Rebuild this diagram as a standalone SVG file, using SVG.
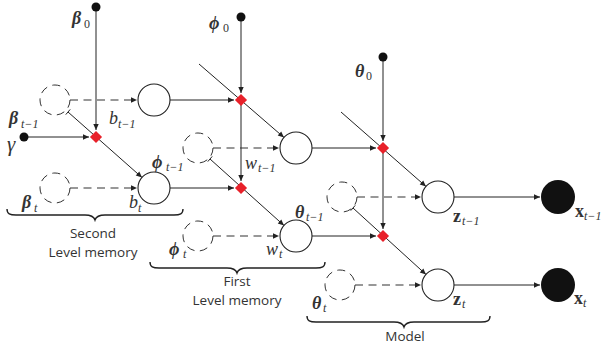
<svg xmlns="http://www.w3.org/2000/svg" width="607" height="352" viewBox="0 0 607 352">
<style>
.ln{stroke:#222;stroke-width:1;fill:none}
.ar{marker-end:url(#ah)}
.ds{stroke:#333;stroke-width:1.1;fill:none;stroke-dasharray:8 5.5}
.dc{stroke:#333;stroke-width:1;fill:none;stroke-dasharray:8 5.5}
.nc{stroke:#222;stroke-width:1.1;fill:#fff}
.fc{fill:#111}
.dm{fill:#e8212a}
.br{stroke:#222;stroke-width:1.4;fill:none}
</style>
<defs>
<marker id="ah" viewBox="0 0 10 10" refX="10" refY="5" markerWidth="7.5" markerHeight="6" markerUnits="userSpaceOnUse" orient="auto">
<path d="M0,0.5 L10,5 L0,9.5 z" fill="#222"/>
</marker>
</defs>
<g id="connectors">
<line class="ln ar" x1="96" y1="9" x2="96" y2="130"/>
<line class="ln ar" x1="27" y1="137" x2="89" y2="137"/>
<line class="ln ar" x1="68" y1="112" x2="142" y2="177.5"/>
<line class="ln" x1="65.8" y1="114.6" x2="70.2" y2="109.4"/>
<line class="ds ar" x1="70" y1="100" x2="137" y2="100"/>
<line class="ds ar" x1="70" y1="188" x2="137" y2="188"/>
<line class="ln ar" x1="170" y1="100" x2="234" y2="100"/>
<line class="ln ar" x1="170" y1="188" x2="234" y2="188"/>
<line class="ln ar" x1="241" y1="20" x2="241" y2="93"/>
<line class="ln ar" x1="241" y1="100" x2="241" y2="181"/>
<line class="ln ar" x1="199" y1="64" x2="284" y2="137.5"/>
<line class="ds ar" x1="213" y1="148" x2="279" y2="148"/>
<line class="ds ar" x1="213" y1="236" x2="279" y2="236"/>
<line class="ln ar" x1="210" y1="159" x2="284" y2="225.5"/>
<line class="ln" x1="207.8" y1="161.6" x2="212.2" y2="156.4"/>
<line class="ln ar" x1="312" y1="148" x2="376" y2="148"/>
<line class="ln ar" x1="312" y1="236" x2="376" y2="236"/>
<line class="ln ar" x1="383" y1="60" x2="383" y2="141"/>
<line class="ln ar" x1="383" y1="148" x2="383" y2="229"/>
<line class="ln ar" x1="341" y1="112" x2="426" y2="186.5"/>
<line class="ds ar" x1="357" y1="197" x2="421" y2="197"/>
<line class="ds ar" x1="355" y1="285" x2="421" y2="285"/>
<line class="ln ar" x1="353" y1="208" x2="426" y2="274.5"/>
<line class="ln" x1="350.8" y1="210.6" x2="355.2" y2="205.4"/>
<line class="ln ar" x1="454" y1="197" x2="540" y2="197"/>
<line class="ln ar" x1="454" y1="285" x2="540" y2="285"/>
</g>
<g id="dashed-nodes">
<circle id="beta_prev" class="dc" cx="55" cy="100" r="15"/>
<circle id="beta_t" class="dc" cx="55" cy="188" r="15"/>
<circle id="phi_prev" class="dc" cx="198" cy="148" r="15"/>
<circle id="phi_t" class="dc" cx="198" cy="236" r="15"/>
<circle id="theta_prev" class="dc" cx="342" cy="197" r="15"/>
<circle id="theta_t" class="dc" cx="340" cy="285" r="15"/>
</g>
<g id="dots">
<circle id="beta0" class="fc" cx="96" cy="7" r="4.5"/>
<circle id="gamma" class="fc" cx="24" cy="137" r="4.5"/>
<circle id="phi0" class="fc" cx="241" cy="17" r="4.5"/>
<circle id="theta0" class="fc" cx="383" cy="57" r="4.5"/>
</g>
<g id="diamonds">
<rect class="dm" x="-4.3" y="-4.3" width="8.6" height="8.6" transform="translate(96,137) rotate(45)"/>
<rect class="dm" x="-4.3" y="-4.3" width="8.6" height="8.6" transform="translate(241,100) rotate(45)"/>
<rect class="dm" x="-4.3" y="-4.3" width="8.6" height="8.6" transform="translate(241,188) rotate(45)"/>
<rect class="dm" x="-4.3" y="-4.3" width="8.6" height="8.6" transform="translate(383,148) rotate(45)"/>
<rect class="dm" x="-4.3" y="-4.3" width="8.6" height="8.6" transform="translate(383,236) rotate(45)"/>
</g>
<g id="nodes">
<circle id="b_prev" class="nc" cx="154" cy="100" r="16"/>
<circle id="b_t" class="nc" cx="154" cy="188" r="16"/>
<circle id="w_prev" class="nc" cx="296" cy="148" r="16"/>
<circle id="w_t" class="nc" cx="296" cy="236" r="16"/>
<circle id="z_prev" class="nc" cx="438" cy="197" r="16"/>
<circle id="z_t" class="nc" cx="438" cy="285" r="16"/>
<circle id="x_prev" class="fc" cx="558" cy="197" r="17"/>
<circle id="x_t" class="fc" cx="558" cy="285" r="17"/>
</g>
<g id="labels" fill="#333">
<text x="72" y="24" font-family="Liberation Serif" font-size="18" font-style="italic" font-weight="bold">β</text>
<text x="84" y="28" font-family="Liberation Serif" font-size="12">0</text>
<text x="9" y="124" font-family="Liberation Serif" font-size="18" font-style="italic" font-weight="bold">β</text>
<text x="21" y="128" font-family="Liberation Serif" font-size="12" font-style="italic">t−1</text>
<text x="7" y="151" font-family="Liberation Serif" font-size="21" font-style="italic">γ</text>
<text x="109" y="124" font-family="Liberation Serif" font-size="18" font-style="italic">b</text>
<text x="118" y="128" font-family="Liberation Serif" font-size="12" font-style="italic">t−1</text>
<text x="22" y="208" font-family="Liberation Serif" font-size="18" font-style="italic" font-weight="bold">β</text>
<text x="34" y="212" font-family="Liberation Serif" font-size="12" font-style="italic">t</text>
<text x="129" y="208" font-family="Liberation Serif" font-size="18" font-style="italic">b</text>
<text x="138" y="212" font-family="Liberation Serif" font-size="12" font-style="italic">t</text>
<text x="209" y="29" font-family="Liberation Serif" font-size="18" font-style="italic" font-weight="bold">ϕ</text>
<text x="223" y="32" font-family="Liberation Serif" font-size="12">0</text>
<text x="152" y="168" font-family="Liberation Serif" font-size="18" font-style="italic" font-weight="bold">ϕ</text>
<text x="166" y="171" font-family="Liberation Serif" font-size="12" font-style="italic">t−1</text>
<text x="245" y="169" font-family="Liberation Serif" font-size="18" font-style="italic">w</text>
<text x="258" y="172" font-family="Liberation Serif" font-size="12" font-style="italic">t−1</text>
<text x="169" y="255" font-family="Liberation Serif" font-size="18" font-style="italic" font-weight="bold">ϕ</text>
<text x="183" y="258" font-family="Liberation Serif" font-size="12" font-style="italic">t</text>
<text x="266" y="255" font-family="Liberation Serif" font-size="18" font-style="italic">w</text>
<text x="279" y="258" font-family="Liberation Serif" font-size="12" font-style="italic">t</text>
<text x="295" y="218" font-family="Liberation Serif" font-size="18" font-style="italic" font-weight="bold">θ</text>
<text x="306" y="221" font-family="Liberation Serif" font-size="12" font-style="italic">t−1</text>
<text x="355" y="77" font-family="Liberation Serif" font-size="18" font-style="italic" font-weight="bold">θ</text>
<text x="366" y="80" font-family="Liberation Serif" font-size="12">0</text>
<text x="312" y="309" font-family="Liberation Serif" font-size="18" font-style="italic" font-weight="bold">θ</text>
<text x="323" y="312" font-family="Liberation Serif" font-size="12" font-style="italic">t</text>
<text x="453" y="222" font-family="Liberation Serif" font-size="18" font-weight="bold">z</text>
<text x="462" y="225" font-family="Liberation Serif" font-size="12" font-style="italic">t−1</text>
<text x="575" y="217" font-family="Liberation Serif" font-size="18" font-weight="bold">x</text>
<text x="584" y="220" font-family="Liberation Serif" font-size="12" font-style="italic">t−1</text>
<text x="453" y="305" font-family="Liberation Serif" font-size="18" font-weight="bold">z</text>
<text x="462" y="308" font-family="Liberation Serif" font-size="12" font-style="italic">t</text>
<text x="574" y="304" font-family="Liberation Serif" font-size="18" font-weight="bold">x</text>
<text x="583" y="307" font-family="Liberation Serif" font-size="12" font-style="italic">t</text>
</g>
<g id="braces">
<path class="br" d="M7,209 C7,214 10,215 16,215 L85,215 C91,215 94,217 95,220 C96,217 99,215 105,215 L174,215 C180,215 183,214 183,209"/>
<path class="br" d="M150,262 C150,267 153,268 159,268 L227,268 C233,268 236,270 237,273 C238,270 241,268 247,268 L316,268 C322,268 325,267 325,262"/>
<path class="br" d="M307,316 C307,321 310,322 316,322 L394,322 C400,322 403,324 404,327 C405,324 408,322 414,322 L481,322 C487,322 490,321 490,316"/>
</g>
<g id="captions" font-family="Open Sans, Liberation Sans, sans-serif" font-size="13.5" fill="#333" text-anchor="middle">
<text x="93" y="238">Second</text>
<text x="93" y="257">Level memory</text>
<text x="237" y="286">First</text>
<text x="237" y="305">Level memory</text>
<text x="405" y="341">Model</text>
</g>
</svg>
